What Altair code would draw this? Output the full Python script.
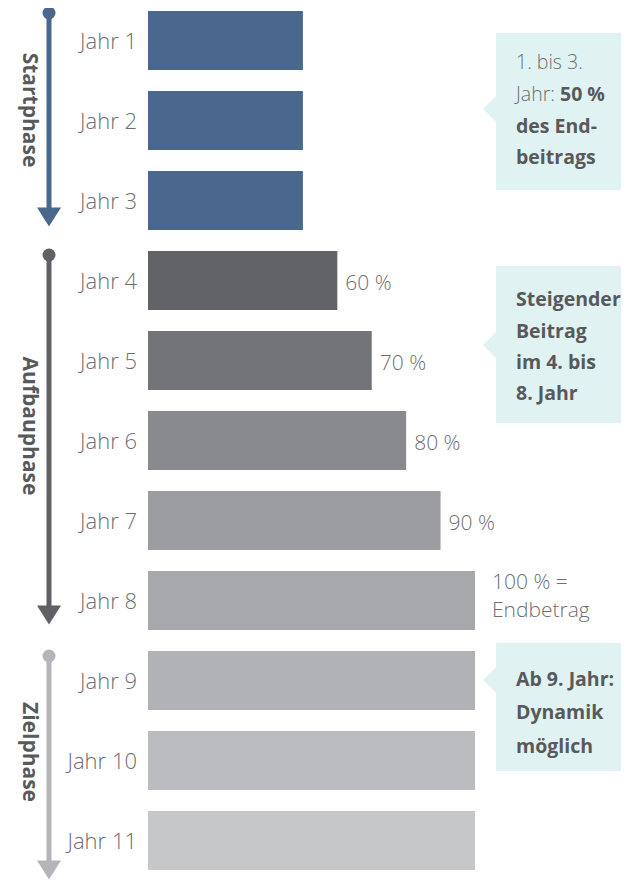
import altair as alt
import pandas as pd

# ---------------- data ----------------
years = ["Jahr 1", "Jahr 2", "Jahr 3", "Jahr 4", "Jahr 5", "Jahr 6",
         "Jahr 7", "Jahr 8", "Jahr 9", "Jahr 10", "Jahr 11"]
shares = [50, 50, 50, 60, 70, 80, 90, 100, 100, 100, 100]
bar_colors = ["#4a678e", "#4a678e", "#4a678e", "#626366", "#737478", "#898a8e",
              "#9c9da1", "#a7a8ac", "#b1b2b6", "#bbbcbf", "#c6c7c9"]
value_labels = ["", "", "", "60 %", "70 %", "80 %", "90 %", "", "", "", ""]
end_label = ["100 % =", "Endbetrag"]
end_year = "Jahr 8"

phases = ["Startphase", "Aufbauphase", "Zielphase"]
phase_colors = ["#4a678e", "#606164", "#b4b5b9"]

callout1_regular = ["1. bis 3.", "Jahr:"]
callout1_bold = ["50 %", "des End-", "beitrags"]
callout2 = ["Steigender", "Beitrag", "im 4. bis", "8. Jahr"]
callout3 = ["Ab 9. Jahr:", "Dynamik", "möglich"]

BASE = 5  # bars start here on the share scale

FONT = "Open Sans"
TXT = "#6d6e71"
BOLD_TXT = "#58595b"
BOX = "#e0f2f2"

W, H = 613, 872

df = pd.DataFrame({"year": years, "share": shares, "color": bar_colors, "label": value_labels})

yenc = alt.Y("year:N", sort=years,
             scale=alt.Scale(domain=years, range=[3, 862], paddingInner=0.2625, paddingOuter=0),
             axis=None)
xenc = alt.X("share:Q",
             scale=alt.Scale(domain=[BASE, 100], range=[140, 467], nice=False, zero=False),
             axis=None)

one = pd.DataFrame({"k": [0]})

layers = []

bars = alt.Chart(df).mark_bar().encode(
    x=xenc, x2=alt.datum(BASE), y=yenc, color=alt.Color("color:N", scale=None)
)
layers.append(bars)

year_labels = alt.Chart(df).mark_text(
    align="right", baseline="middle", font=FONT, fontSize=22, fontWeight=300, color=TXT, dy=1
).encode(x=alt.value(129), y=yenc, text="year:N")
layers.append(year_labels)

val_labels = alt.Chart(df).transform_filter(alt.datum.label != "").mark_text(
    align="left", baseline="middle", font=FONT, fontSize=21, fontWeight=300, color=TXT, dx=8, dy=3
).encode(x=xenc, y=yenc, text="label:N")
layers.append(val_labels)

end_df = pd.DataFrame({"year": [end_year], "share": [100]})
for txt, dy in zip(end_label, [-18, 10]):
    layers.append(alt.Chart(end_df).mark_text(
        text=txt, align="left", baseline="middle", font=FONT, fontSize=21, fontWeight=300,
        color=TXT, dx=17, dy=dy
    ).encode(x=xenc, y=yenc))

# ---------------- phase arrows ----------------
arrow_geom = [  # dot y, head centre y, label centre y (pixels)
    (5, 209, 102),
    (247, 607, 418),
    (648, 862, 744),
]
AX = 41
for name, col, (dot_y, head_y, lab_y) in zip(phases, phase_colors, arrow_geom):
    layers.append(alt.Chart(one).mark_rule(color=col, strokeWidth=5).encode(
        x=alt.value(AX), y=alt.value(dot_y), y2=alt.value(head_y - 6)))
    layers.append(alt.Chart(one).mark_point(
        shape="circle", size=169, filled=True, color=col, opacity=1, strokeWidth=0
    ).encode(x=alt.value(AX), y=alt.value(dot_y)))
    layers.append(alt.Chart(one).mark_point(
        shape="M-1,-0.8L1,-0.8L0,0.8Z", size=576, filled=True, color=col, opacity=1, strokeWidth=0
    ).encode(x=alt.value(AX), y=alt.value(head_y)))
    layers.append(alt.Chart(one).mark_text(
        text=name, angle=90, align="center", baseline="middle", font=FONT, fontSize=21,
        fontWeight="bold", color=BOLD_TXT
    ).encode(x=alt.value(21), y=alt.value(lab_y)))

# ---------------- callouts ----------------
def box(y0, y1, py):
    return [
        alt.Chart(one).mark_rect(color=BOX).encode(
            x=alt.value(488), x2=alt.value(W), y=alt.value(y0), y2=alt.value(y1)),
        alt.Chart(one).mark_point(
            shape="M0,-1L-1,0L0,1Z", size=784, filled=True, color=BOX, opacity=1, strokeWidth=0
        ).encode(x=alt.value(489), y=alt.value(py)),
    ]

def line(txt, x, y, bold):
    return alt.Chart(one).mark_text(
        text=txt, align="left", baseline="middle", font=FONT, fontSize=19.5,
        fontWeight="bold" if bold else 300, color=BOLD_TXT if bold else TXT
    ).encode(x=alt.value(x), y=alt.value(y))

layers += box(25, 182, 101)
layers += box(258, 415, 337)
layers += box(635, 763, 672)

TX = 508
layers.append(line(callout1_regular[0], TX, 55, False))
layers.append(line(callout1_regular[1], TX, 87, False))
layers.append(line(callout1_bold[0], 552, 87, True))
layers.append(line(callout1_bold[1], TX, 119, True))
layers.append(line(callout1_bold[2], TX, 150, True))

for t, yy in zip(callout2, [292, 324, 355, 386]):
    layers.append(line(t, TX, yy, True))
for t, yy in zip(callout3, [672, 705, 739]):
    layers.append(line(t, TX, yy, True))

chart = alt.layer(*layers).properties(
    width=W, height=H,
    autosize=alt.AutoSizeParams(type="none"),
    padding=0,
).configure_view(stroke=None)

chart.save("out.html", embed_options={"renderer": "svg", "actions": False})
